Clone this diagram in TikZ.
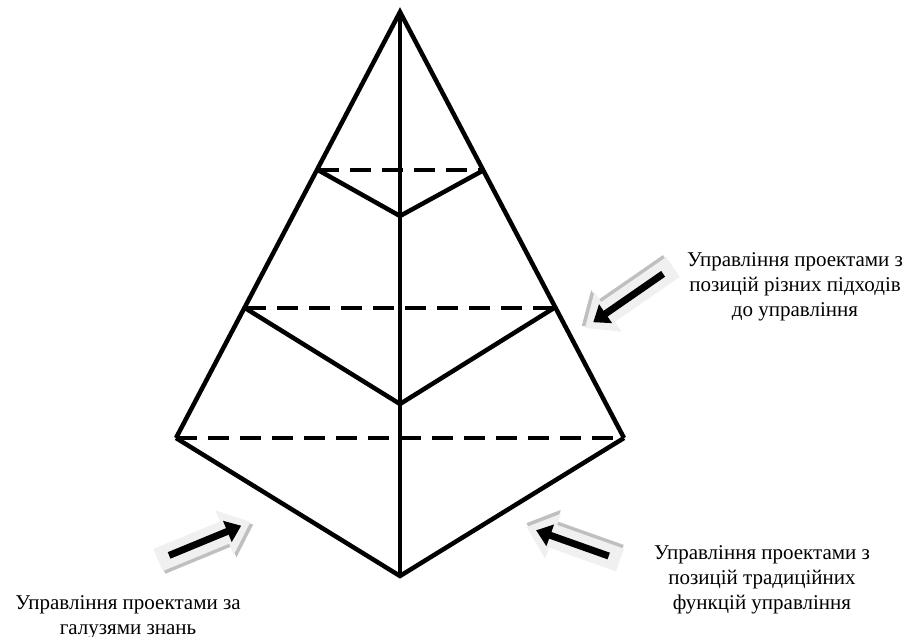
\documentclass[tikz,border=0pt]{standalone}
\usepackage{fontspec}
\setmainfont{Liberation Serif}
\usetikzlibrary{arrows.meta}
\tikzset{
  solidline/.style={line width=4.5pt, line join=miter},
  dashline/.style={line width=4.5pt, dash pattern=on 21pt off 11pt},
  labeltext/.style={align=center, font=\fontsize{21}{25}\selectfont, inner sep=0pt},
  blockfill/.style={fill=black!6, draw=none},
  blockshadow/.style={fill=black!25, draw=none},
  innerarrow/.style={line width=7pt, -{Triangle[length=15pt,width=22pt]}}
}
\newcommand\myblockarrow[3]{% #1 tail coordinate, #2 angle, #3 length
  \begin{scope}[shift={(#1)}, rotate=#2, x=1pt, y=1pt]
    \fill[blockshadow, shift={(1.5,-3.5)}] (0,-12) -- (#3-28,-12) -- (#3-28,-24) -- (#3,0) -- (#3-28,24) -- (#3-28,12) -- (0,12) -- cycle;
    \fill[blockfill] (0,-12) -- (#3-28,-12) -- (#3-28,-24) -- (#3,0) -- (#3-28,24) -- (#3-28,12) -- (0,12) -- cycle;
    \draw[innerarrow] (12,0) -- (#3-10,0);
  \end{scope}}
\begin{document}
\begin{tikzpicture}[x=1pt, y=-1pt]
\useasboundingbox (0,0) rectangle (910,637);
% key points
\coordinate (apex) at (400,12);
\coordinate (bot) at (400,576);
\coordinate (L1) at (318,170);
\coordinate (R1) at (484,170);
\coordinate (M1) at (400,216);
\coordinate (L2) at (245,308);
\coordinate (R2) at (554,308);
\coordinate (M2) at (400,404);
\coordinate (L3) at (176,438);
\coordinate (R3) at (624,438);
% dashed horizontals
\draw[dashline] (L1) -- (R1);
\draw[dashline] (L2) -- (R2);
\draw[dashline] (L3) -- (R3);
% outline
\draw[solidline] (L3) -- (apex) -- (R3);
\draw[solidline] (L3) -- (bot) -- (R3);
\draw[solidline] (apex) -- (bot);
\draw[solidline] (L1) -- (M1) -- (R1);
\draw[solidline] (L2) -- (M2) -- (R2);
% block arrows
\coordinate (a1) at (158,560);
\coordinate (a2) at (620,560);
\coordinate (a3) at (673,267);
\myblockarrow{a1}{22.4}{100}
\myblockarrow{a2}{160.5}{99}
\myblockarrow{a3}{214.7}{107}
% labels
\node[labeltext] (t1) at (795,287) {Управління проектами з\\позицій різних підходів\\до управління};
\node[labeltext] (t2) at (762,580) {Управління проектами з\\позицій традиційних\\функцій управління};
\node[labeltext] (t3) at (128,617) {Управління проектами за\\галузями знань};
\end{tikzpicture}
\end{document}
